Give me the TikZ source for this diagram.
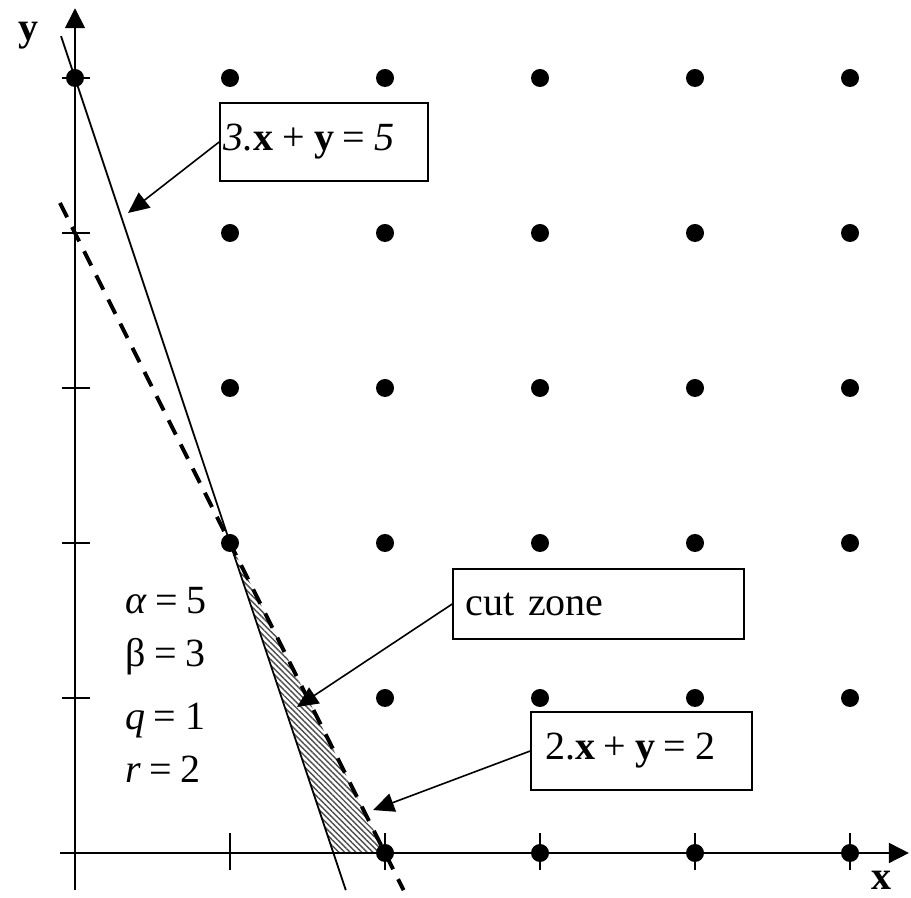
\documentclass[tikz,border=0pt]{standalone}
\usepackage{fontspec}
\setmainfont{Liberation Serif}
\usetikzlibrary{arrows.meta,patterns.meta}
\newcommand{\gap}{\hspace{0.22em}}

\begin{document}
\begin{tikzpicture}[
  x=77.5pt, y=77.5pt,
  font=\fontsize{20}{24}\selectfont,
  box/.style={draw, line width=0.8pt, align=left, minimum height=39pt},
  dot/.style={circle, fill, inner sep=0pt, minimum size=9pt},
  ax/.style={line width=0.9pt, -{Triangle[length=10pt, width=10pt]}},
  ar/.style={line width=0.8pt, -{Triangle[length=10.5pt, width=9.5pt]}},
  tk/.style={line width=0.8pt}
]
\useasboundingbox (-0.4839,-0.2903) rectangle (5.3935,5.5032);

% cut zone
\fill[pattern={Lines[angle=-45, distance=2pt, line width=0.7pt]}, pattern color=black!70]
  (1,2) -- (5/3,0) -- (2,0) -- cycle;

% axes
\coordinate (xs) at (-0.097,0);  \coordinate (xe) at (5.38,0);
\coordinate (ys) at (0,-0.239);  \coordinate (ye) at (0,5.45);
\draw[ax] (xs) -- (xe);
\draw[ax] (ys) -- (ye);
\foreach \k in {1,...,5} {
  \draw[tk] (\k,-0.11) -- (\k,0.129);
  \draw[tk] (-0.084,\k) -- (0.097,\k);
}
\node[font=\fontsize{20}{24}\selectfont\bfseries, anchor=base] (ylab) at (-0.297,5.239) {y};
\node[font=\fontsize{20}{24}\selectfont\bfseries, anchor=base] (xlab) at (5.2,-0.235) {x};

% lines
\coordinate (s1) at (-0.09,5.27);  \coordinate (s2) at (1.747,-0.24);
\coordinate (d1) at (-0.097,4.194); \coordinate (d2) at (2.12,-0.24);
\draw[line width=0.9pt] (s1) -- (s2);
\draw[line width=2pt, dash pattern=on 8pt off 5.5pt] (d1) -- (d2);

% integer points
\node[dot] (p05) at (0,5) {};
\foreach \i in {1,...,5} \node[dot] (p\i5) at (\i,5) {};
\foreach \j in {2,3,4} \foreach \i in {1,...,5} \node[dot] (p\i\j) at (\i,\j) {};
\foreach \j in {0,1} \foreach \i in {2,...,5} \node[dot] (p\i\j) at (\i,\j) {};

% data
\node[anchor=base west] (al) at (0.277,1.548) {\textit{α}\gap=\gap5};
\node[anchor=base west] (be) at (0.277,1.2) {β\gap=\gap3};
\node[anchor=base west] (qq) at (0.277,0.794) {\textit{q}\gap=\gap1};
\node[anchor=base west] (rr) at (0.277,0.458) {\textit{r}\gap=\gap2};

% labels
\node[box, inner xsep=2pt, text width=100pt, fill=white] (eq1) at (1.606,4.587)
  {\textit{3.}\textbf{x}\gap+\gap\textbf{y}\gap=\gap\textit{5}};
\node[box, inner xsep=6.5pt, text width=132.5pt, minimum height=35pt, fill=white] (cz) at (3.377,1.606)
  {cut zone};
\node[box, inner xsep=7pt, text width=96.5pt, fill=white] (eq2) at (3.655,0.658)
  {2.\textbf{x}\gap+\gap\textbf{y}\gap=\gap2};

\coordinate (t1) at (0.342,4.129);
\coordinate (t2) at (1.432,0.942);
\coordinate (t3) at (1.923,0.277);
\draw[ar] (eq1.west) -- (t1);
\draw[ar] (cz.west) -- (t2);
\draw[ar] (eq2.west) -- (t3);
\end{tikzpicture}
\end{document}
